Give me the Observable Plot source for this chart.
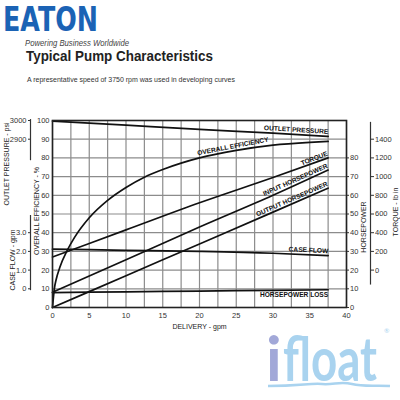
<!DOCTYPE html>
<html><head><meta charset="utf-8">
<script src="https://cdn.jsdelivr.net/npm/d3@7"></script>
<script src="https://cdn.jsdelivr.net/npm/@observablehq/plot@0.6"></script>
<style>
body{margin:0;background:#fff;}
#wrap{position:relative;width:400px;height:400px;overflow:hidden;background:#fff;font-family:"Liberation Sans",Arial,sans-serif;}
#head{position:absolute;left:0;top:0;}
#chart{position:absolute;left:0;top:90px;}
#logo{position:absolute;left:0;top:0;pointer-events:none;}
</style></head><body>
<div id="wrap">
<svg id="head" width="400" height="90" font-family="Liberation Sans, Arial, sans-serif">
 <text x="3" y="31" font-family="DejaVu Sans" font-weight="bold" font-size="34" fill="#1b63b5" textLength="95" lengthAdjust="spacingAndGlyphs">EATON</text>
 <text x="25" y="46" font-style="italic" font-size="9.5" fill="#444" textLength="104" lengthAdjust="spacingAndGlyphs">Powering Business Worldwide</text>
 <text x="26" y="61" font-weight="bold" font-size="15" fill="#222" textLength="187" lengthAdjust="spacingAndGlyphs">Typical Pump Characteristics</text>
 <text x="27" y="82" font-size="6.8" fill="#333" textLength="208" lengthAdjust="spacingAndGlyphs">A representative speed of 3750 rpm was used in developing curves</text>
</svg>
<div id="chart"></div>
<svg id="logo" width="400" height="400" font-family="Lato, DejaVu Sans, sans-serif">
 <text x="266" y="381" font-size="62" font-weight="bold" fill="#a2a8d8">i</text>
 <text x="283" y="381" font-size="62" font-weight="bold" fill="#a9d3ef" textLength="94" lengthAdjust="spacingAndGlyphs">float</text>
 <text x="384" y="333" font-size="6.5" fill="#a9d3ef">®</text>
 <path d="M268,386 C300,386 310,383 322,384 C334,385 340,381 352,384 C364,387 376,385 390,386" stroke="#a9d3ef" stroke-width="2.5" fill="none"/>
</svg>
</div>
<script>
// ---- data ----
const delivery = [0, 0.25, 0.5, 1, 2, 3, 5, 7.5, 10, 12.5, 15, 17.5, 20, 25, 30, 35, 37.5];
const overallEfficiency = [0, 10, 15, 21.5, 30.5, 37.5, 48, 57.3, 64.2, 69.7, 73.8, 77.2, 80, 84, 86.8, 88.3, 88.8]; // %
const deliveryLin = [0, 10, 20, 30, 37.5];
const outletPressure = [2997, 2975, 2953, 2932, 2915]; // psi
const torque = [140, 430, 720, 990, 1200]; // lb in
const inputHorsepower = [8.2, 25.5, 43, 60, 73.5];
const outputHorsepower = [0, 17, 34, 51, 63.8];
const caseFlow = [2.12, 2.06, 2.0, 1.9, 1.77]; // gpm
const horsepowerLoss = [8, 8.4, 8.8, 9.2, 9.5];

const deliveryTicks = [0, 5, 10, 15, 20, 25, 30, 35, 40];
const deliveryGrid = [0, 2.5, 5, 7.5, 10, 12.5, 15, 17.5, 20, 22.5, 25, 27.5, 30, 32.5, 35, 37.5, 40];
const efficiencyTicks = [0, 10, 20, 30, 40, 50, 60, 70, 80, 90, 100];
const horsepowerTicks = [0, 10, 20, 30, 40, 50, 60, 70, 80];
const torqueTicks = [0, 200, 400, 600, 800, 1000, 1200, 1400];
const pressureTicks = [2900, 3000];
const caseFlowTicks = [0, 1.0, 2.0, 3.0];

// all scales share the efficiency (0-100) vertical scale
const toY = {
  pressure: p => (p - 2000) / 10,
  torque: t => t / 20 + 20,
  caseFlow: c => c * 10 + 10,
  hp: h => h,
  eff: e => e
};
const fromY = {
  pressure: v => v * 10 + 2000,
  torque: v => (v - 20) * 20,
  caseFlow: v => (v - 10) / 10
};

const series = [
  {name: "OUTLET PRESSURE", x: deliveryLin, v: outletPressure.map(toY.pressure)},
  {name: "OVERALL EFFICIENCY", x: delivery, v: overallEfficiency.map(toY.eff)},
  {name: "TORQUE", x: deliveryLin, v: torque.map(toY.torque)},
  {name: "INPUT HORSEPOWER", x: deliveryLin, v: inputHorsepower.map(toY.hp)},
  {name: "OUTPUT HORSEPOWER", x: deliveryLin, v: outputHorsepower.map(toY.hp)},
  {name: "CASE FLOW", x: deliveryLin, v: caseFlow.map(toY.caseFlow)},
  {name: "HORSEPOWER LOSS", x: deliveryLin, v: horsepowerLoss.map(toY.hp)}
];
const rows = series.flatMap(s => s.x.map((x, i) => ({name: s.name, x, y: s.v[i]})));

// label style per curve (anchor point: end of curve, or a given delivery)
const labelStyle = {
  "OUTLET PRESSURE": {rotate: 3.5, textAnchor: "end", lineAnchor: "bottom", dy: -2.5},
  "OVERALL EFFICIENCY": {at: 25, rotate: -11, textAnchor: "middle", lineAnchor: "bottom", dy: -2, dx: -3},
  "TORQUE": {rotate: -21, textAnchor: "end", lineAnchor: "bottom", dy: -2.5},
  "INPUT HORSEPOWER": {rotate: -24, textAnchor: "end", lineAnchor: "bottom", dy: -2.5},
  "OUTPUT HORSEPOWER": {rotate: -23.5, textAnchor: "end", lineAnchor: "bottom", dy: -2.5},
  "CASE FLOW": {rotate: 3, textAnchor: "end", lineAnchor: "bottom", dy: -2.5},
  "HORSEPOWER LOSS": {rotate: 0, textAnchor: "end", lineAnchor: "top", dy: 3}
};
const labelMarks = series.map(s => {
  const st = labelStyle[s.name];
  const i = st.at === undefined ? s.x.length - 1 : s.x.indexOf(st.at);
  return Plot.text([{x: s.x[i], y: s.v[i], t: s.name}], {
    x: "x", y: "y", text: "t", rotate: st.rotate, textAnchor: st.textAnchor,
    lineAnchor: st.lineAnchor, dy: st.dy, dx: st.dx || 0,
    fontSize: 6.6, fill: "#111", fontWeight: "bold"
  });
});

const lineColor = "#111";
const axisColor = "#333";
const font = {fontSize: 7.5, fill: "#333"};
const titleFont = {fontSize: 7, fill: "#222", textAnchor: "middle", lineAnchor: "middle"};

const chart = Plot.plot({
  width: 400,
  height: 310,
  marginLeft: 52,
  marginRight: 54,
  marginTop: 30,
  marginBottom: 93,
  style: {fontFamily: "Liberation Sans, Arial, sans-serif", fontSize: "7.5px", background: "transparent", overflow: "visible"},
  x: {domain: [0, 40]},
  y: {domain: [0, 100]},
  marks: [
    Plot.gridX(deliveryGrid, {stroke: "#8c8c8c", strokeOpacity: 1, strokeWidth: 1.2}),
    Plot.gridY(efficiencyTicks, {stroke: "#8c8c8c", strokeOpacity: 1, strokeWidth: 1.2}),
    Plot.line(rows, {x: "x", y: "y", z: "name", curve: "monotone-x", stroke: lineColor, strokeWidth: 1.7}),
    Plot.frame({stroke: "#222", strokeWidth: 1.6}),
    // bottom axis
    Plot.axisX(deliveryTicks, {anchor: "bottom", tickSize: 0, tickPadding: 5, label: null, ...font}),
    Plot.text(["DELIVERY - gpm"], {frameAnchor: "bottom", dy: 19, ...titleFont}),
    // left efficiency axis
    Plot.axisY(efficiencyTicks, {anchor: "left", tickSize: 0, tickPadding: 3, label: null, ...font}),
    Plot.text(["OVERALL EFFICIENCY - %"], {frameAnchor: "left", rotate: -90, dx: -16, dy: -3, ...titleFont}),
    // outlet pressure axis
    Plot.ruleX([0], {y1: toY.pressure(2785), y2: toY.pressure(3005), dx: -22, stroke: axisColor, strokeWidth: 1.2}),
    Plot.axisY(pressureTicks.map(toY.pressure), {anchor: "left", dx: -22, tickSize: 2, tickPadding: 2, tickFormat: v => String(fromY.pressure(v)), label: null, stroke: axisColor, ...font}),
    Plot.text(["OUTLET PRESSURE - psi"], {frameAnchor: "left", rotate: -90, dx: -46, dy: -50, ...titleFont}),
    // case flow axis
    Plot.ruleX([0], {y1: toY.caseFlow(-0.1), y2: toY.caseFlow(3.92), dx: -22, stroke: axisColor, strokeWidth: 1.2}),
    Plot.axisY(caseFlowTicks.map(toY.caseFlow), {anchor: "left", dx: -22, tickSize: 2, tickPadding: 2, tickFormat: v => { const c = fromY.caseFlow(v); return c === 0 ? "0" : c.toFixed(1); }, label: null, stroke: axisColor, ...font}),
    Plot.text(["CASE FLOW - gpm"], {frameAnchor: "left", rotate: -90, dx: -40, dy: 46, ...titleFont}),
    // right horsepower axis
    Plot.axisY(horsepowerTicks.map(toY.hp), {anchor: "right", tickSize: 2, tickPadding: 1.5, label: null, stroke: axisColor, ...font}),
    Plot.text(["HORSEPOWER"], {frameAnchor: "right", rotate: -90, dx: 17, dy: 13, ...titleFont}),
    // torque axis
    Plot.ruleX([40], {y1: toY.torque(-160), y2: toY.torque(1580), dx: 24, stroke: axisColor, strokeWidth: 1.2}),
    Plot.axisY(torqueTicks.map(toY.torque), {anchor: "right", dx: 24, tickSize: 3, tickPadding: 1.5, tickFormat: v => String(fromY.torque(v)), label: null, stroke: axisColor, ...font}),
    Plot.text(["TORQUE - lb in"], {frameAnchor: "right", rotate: -90, dx: 49, dy: -2, ...titleFont}),
    ...labelMarks
  ]
});
document.getElementById("chart").appendChild(chart);
</script>
</body></html>
